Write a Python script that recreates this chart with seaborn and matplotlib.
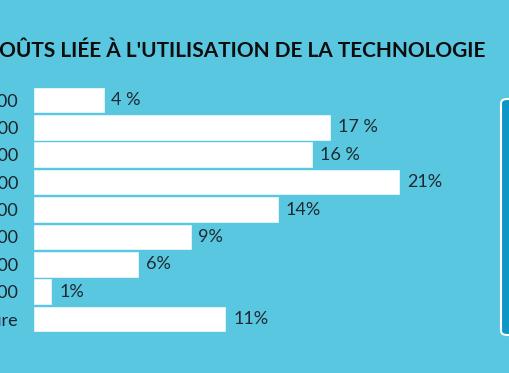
import matplotlib
matplotlib.use('Agg')
import matplotlib.pyplot as plt
import seaborn as sns
import pandas as pd
from matplotlib.patches import FancyBboxPatch

# data (left part of the labels is cut off in the source)
categories = ['0 - 500', '500 - 1 000', '1 000 - 2 000', '2 000 - 5 000', '5 000 - 10 000',
              '10 000 - 20 000', '20 000 - 50 000', '> 100 000', 'Pas de mesure']
values = [4, 17, 16, 21, 14, 9, 6, 1, 11]
value_labels = ['4 %', '17 %', '16 %', '21%', '14%', '9%', '6%', '1%', '11%']

bg = '#5AC7E1'
df = pd.DataFrame({'categorie': categories, 'part': values})

sns.set_theme(style='white')
plt.rcParams['font.family'] = ['Lato', 'DejaVu Sans']

fig = plt.figure(figsize=(5.1, 3.73), dpi=100)
fig.patch.set_facecolor(bg)
ax = fig.add_axes([34 / 510, 0.108, 435 / 510, 0.6606])
ax.set_facecolor(bg)

sns.barplot(data=df, x='part', y='categorie', color='white', saturation=1,
            width=0.9, orient='h', ax=ax, edgecolor='#e6f6fb', linewidth=0.6)

ax.set_xlim(0, 25)
ax.set_ylim(8.5, -0.5)
ax.set_xlabel('')
ax.set_ylabel('')
ax.set_xticks([])
for s in ax.spines.values():
    s.set_visible(False)
ax.tick_params(axis='y', length=0, pad=11.5, labelsize=13, labelcolor='#1a2328')

for i, (v, lab) in enumerate(zip(values, value_labels)):
    ax.text(v + 0.45, i, lab, va='center', ha='left', fontsize=13,
            color='#1e2a30')

fig.text(485 / 510, 1 - 57 / 373, "RÉPARTITION DES COÛTS LIÉE À L'UTILISATION DE LA TECHNOLOGIE",
         ha='right', va='baseline', fontsize=15, fontweight='bold', color='#0d0d0d')

# side panel cut by the right edge
box = FancyBboxPatch((501 / 510, 1 - 335 / 373), 40 / 510, 236 / 373,
                     boxstyle='round,pad=0,rounding_size=0.012',
                     transform=fig.transFigure, facecolor='#0E97C6',
                     edgecolor='white', linewidth=1.5, clip_on=False)
fig.patches.append(box)

fig.savefig('out.png', dpi=100, facecolor=bg)
